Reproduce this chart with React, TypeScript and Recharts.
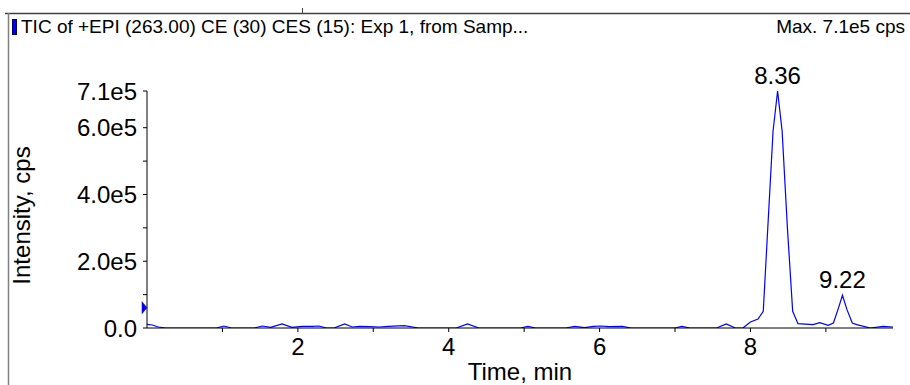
import React from "react";
import {
  LineChart,
  Line,
  XAxis,
  YAxis,
  ReferenceDot,
  Label,
} from "recharts";

// retention time (min) and TIC intensity (cps)
const times = [
  0.0, 0.07, 0.15, 0.25, 0.92, 1.02, 1.12, 1.42, 1.53, 1.64, 1.79, 1.92, 2.06,
  2.19, 2.28, 2.38, 2.48, 2.62, 2.72, 2.82, 2.95, 3.08, 3.2, 3.41, 3.6, 4.1,
  4.25, 4.4, 4.95, 5.05, 5.15, 5.55, 5.67, 5.8, 5.92, 6.02, 6.12, 6.3, 6.42,
  7.0, 7.09, 7.2, 7.55, 7.68, 7.8, 7.9, 8.0, 8.1, 8.17, 8.23, 8.3, 8.36, 8.42,
  8.49, 8.56, 8.63, 8.83, 8.92, 9.03, 9.1, 9.16, 9.22, 9.28, 9.35, 9.41, 9.59,
  9.76, 9.89,
];
const intensity = [
  11000, 9000, 3000, 0, 0, 6000, 0, 0, 6000, 2000, 12000, 2000, 5000, 5000,
  6000, 0, 0, 12000, 3000, 5000, 4000, 3000, 5000, 7000, 0, 0, 12000, 0, 0,
  5000, 0, 0, 5000, 1000, 5000, 6000, 4000, 5000, 0, 0, 5000, 0, 0, 12000, 0,
  0, 18000, 27000, 50000, 300000, 590000, 710000, 590000, 300000, 50000, 13000,
  10000, 16000, 8000, 15000, 55000, 98000, 55000, 15000, 10000, 0, 5000, 3000,
];
const peakTimes = [8.36, 9.22];

const xTicks = [1, 2, 3, 4, 5, 6, 7, 8, 9];
const xLabels = ["2", "4", "6", "8"];
const yTicks = [0, 100000, 200000, 300000, 400000, 500000, 600000, 710000];
const yLabels: Record<number, string> = {
  0: "0.0",
  200000: "2.0e5",
  400000: "4.0e5",
  600000: "6.0e5",
  710000: "7.1e5",
};
const markerLevel = 61000;

const title = "TIC of +EPI (263.00) CE (30) CES (15): Exp 1, from Samp...";
const maxText = "Max. 7.1e5 cps";

const data = times.map((t, i) => ({ time: t, cps: intensity[i] }));

const FONT = "'Liberation Sans', Arial, sans-serif";
const NARROW = "'Liberation Sans Narrow', 'Arial Narrow', 'Liberation Sans', sans-serif";

function PeakLabel(props: any) {
  const { x, y, index } = props;
  const t = times[index];
  if (!peakTimes.includes(t)) return null;
  return (
    <text x={x} y={y - 7} textAnchor="middle" fontSize={24} fontFamily={FONT} fill="#000">
      {t.toFixed(2)}
    </text>
  );
}

function YTitle(props: any) {
  const vb = props.viewBox;
  return (
    <text
      transform={`translate(${vb.x + 30}, ${vb.y + vb.height / 2 + 6}) rotate(-90)`}
      textAnchor="middle"
      fontSize={24}
      fontFamily={FONT}
      fill="#000"
    >
      Intensity, cps
    </text>
  );
}

function Marker(props: any) {
  const { cx, cy } = props;
  return (
    <polygon
      points={`${cx - 5},${cy - 6} ${cx},${cy} ${cx - 5},${cy + 6}`}
      fill="#0000ff"
      stroke="#000080"
      strokeWidth={0.5}
    />
  );
}

export default function App() {
  return (
    <div style={{ position: "absolute", left: 0, top: 0, width: 910, height: 385, background: "#fff" }}>
      <LineChart
        width={910}
        height={385}
        data={data}
        margin={{ top: 91, right: 17, bottom: 0, left: 0 }}
      >
        <XAxis
          dataKey="time"
          type="number"
          domain={[0, 9.89]}
          ticks={xTicks}
          allowDataOverflow
          height={57}
          stroke="#000"
          tickSize={4}
          tickMargin={6}
          tick={{ fontSize: 24, fontFamily: FONT, fill: "#000" }}
          tickFormatter={(v: number) => (xLabels.includes(String(v)) ? String(v) : "")}
        >
          <Label
            value="Time, min"
            position="insideBottom"
            offset={5}
            style={{ fontSize: 24, fontFamily: FONT, fill: "#000" }}
          />
        </XAxis>
        <YAxis
          type="number"
          domain={[0, 710000]}
          ticks={yTicks}
          allowDataOverflow
          width={147}
          stroke="#000"
          tickSize={4}
          tickMargin={6}
          tick={{ fontSize: 24, fontFamily: FONT, fill: "#000" }}
          tickFormatter={(v: number) => yLabels[v] ?? ""}
        >
          <Label content={<YTitle />} />
        </YAxis>
        <Line
          type="linear"
          dataKey="cps"
          stroke="#0000ff"
          strokeWidth={1.2}
          dot={false}
          activeDot={false}
          isAnimationActive={false}
          label={<PeakLabel />}
        />
        <ReferenceDot x={0} y={markerLevel} shape={<Marker />} ifOverflow="visible" />
      </LineChart>
      <svg
        width={910}
        height={385}
        style={{ position: "absolute", left: 0, top: 0, pointerEvents: "none" }}
      >
        <line x1={5} y1={13.5} x2={910} y2={13.5} stroke="#404040" strokeWidth={1.5} />
        <line x1={8.5} y1={13} x2={8.5} y2={385} stroke="#808080" strokeWidth={1.5} />
        <line x1={302.5} y1={8} x2={302.5} y2={13} stroke="#404040" strokeWidth={1} />
        <rect x={12.5} y={19.5} width={4} height={15} fill="#0000ff" stroke="#000060" strokeWidth={1} />
        <text x={21} y={33} fontSize={19} fontFamily={NARROW} fill="#000">
          {title}
        </text>
        <text x={905} y={33} textAnchor="end" fontSize={19} fontFamily={NARROW} fill="#000">
          {maxText}
        </text>
      </svg>
    </div>
  );
}
